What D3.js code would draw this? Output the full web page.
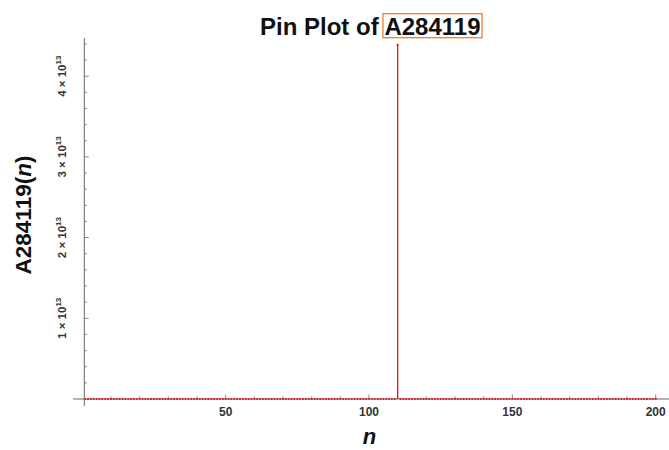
<!DOCTYPE html>
<html><head><meta charset="utf-8">
<script src="https://cdn.jsdelivr.net/npm/d3@7"></script>
<style>body{margin:0;background:#fff}svg{display:block;font-family:"Liberation Sans",Arial,sans-serif}</style>
</head><body><svg id="c" width="669" height="450"></svg>
<script>
// Values: n = 1..200; all visually zero except the spike at n = 110
const nValues = d3.range(1, 201);
const spikeN = [110];
const spikeValue = [4.39e13];
const values = nValues.map(n => { const i = spikeN.indexOf(n); return i >= 0 ? spikeValue[i] : 0; });
const xMajorTicks = [50, 100, 150, 200];
const xMinorTicks = [10, 20, 30, 40, 60, 70, 80, 90, 110, 120, 130, 140, 160, 170, 180, 190];
const yMajorTicks = [1e13, 2e13, 3e13, 4e13];
const yMajorLabels = [["1", "13"], ["2", "13"], ["3", "13"], ["4", "13"]];
const titleText = "Pin Plot of ";
const titleSeq = "A284119";

const svg = d3.select("#c");
const x = d3.scaleLinear().domain([0, 200]).range([82.3, 655.7]);
const y = d3.scaleLinear().domain([0, 4e13]).range([399, 76.2]);
const axisColor = "#666";
const originX = 84.3;

const yMinor = d3.range(2e12, 4.5e13, 2e12).filter(v => !yMajorTicks.includes(v));
const g = svg.append("g");
g.selectAll(".ym").data(yMinor).join("line")
  .attr("x1", originX).attr("x2", originX + 2.5)
  .attr("y1", d => y(d)).attr("y2", d => y(d)).attr("stroke", axisColor).attr("stroke-width", 0.8);
g.selectAll(".yM").data(yMajorTicks).join("line")
  .attr("x1", originX).attr("x2", originX + 4.5)
  .attr("y1", d => y(d)).attr("y2", d => y(d)).attr("stroke", axisColor).attr("stroke-width", 0.8);
g.selectAll(".xm").data(xMinorTicks).join("line")
  .attr("x1", d => x(d)).attr("x2", d => x(d))
  .attr("y1", y(0)).attr("y2", y(0) - 2.5).attr("stroke", axisColor).attr("stroke-width", 0.8);
g.selectAll(".xM").data(xMajorTicks).join("line")
  .attr("x1", d => x(d)).attr("x2", d => x(d))
  .attr("y1", y(0)).attr("y2", y(0) - 4.5).attr("stroke", axisColor).attr("stroke-width", 0.8);
g.append("line").attr("x1", 73).attr("x2", 669).attr("y1", y(0)).attr("y2", y(0)).attr("stroke", axisColor).attr("stroke-width", 1);
g.append("line").attr("x1", originX).attr("x2", originX).attr("y1", 406).attr("y2", 38).attr("stroke", axisColor).attr("stroke-width", 1);

g.selectAll(".xl").data(xMajorTicks).join("text")
  .attr("x", d => x(d)).attr("y", 416).attr("text-anchor", "middle")
  .attr("font-size", 12).attr("font-weight", "bold").attr("fill", "#333").text(d => d);

yMajorTicks.forEach((v, i) => {
  const t = g.append("text")
    .attr("transform", `translate(65.5,${y(v)}) rotate(-90)`)
    .attr("text-anchor", "middle").attr("font-size", 11.5).attr("font-weight", "bold").attr("fill", "#333");
  t.append("tspan").text(yMajorLabels[i][0] + " \u00d7 10");
  t.append("tspan").attr("dy", -5).attr("font-size", 8).text(yMajorLabels[i][1]);
});

const data = nValues.map((n, i) => ({n, v: values[i]}));
svg.append("g").selectAll("line").data(data.filter(d => d.v > 0)).join("line")
  .attr("x1", d => x(d.n)).attr("x2", d => x(d.n))
  .attr("y1", y(0)).attr("y2", d => y(d.v)).attr("stroke", "#e8141b").attr("stroke-width", 1.3);
svg.append("g").selectAll("circle").data(data).join("circle")
  .attr("cx", d => x(d.n)).attr("cy", d => y(d.v)).attr("r", 1.1).attr("fill", "#e8141b");

const title = svg.append("text").attr("x", 260).attr("y", 35).attr("font-size", 24).attr("font-weight", "bold").attr("fill", "#111");
title.append("tspan").text(titleText);
title.append("tspan").text(titleSeq);
const tn = title.node();
const startX = 260 + tn.getSubStringLength(0, titleText.length);
const seqW = tn.getSubStringLength(titleText.length, titleSeq.length);
svg.append("rect").attr("x", startX - 1.5).attr("y", 13.7).attr("width", seqW + 3).attr("height", 24)
  .attr("fill", "none").attr("stroke", "#f07f2f").attr("stroke-width", 1.3);

const yt = svg.append("text").attr("transform", "translate(31,215) rotate(-90)").attr("text-anchor", "middle")
  .attr("font-size", 22.5).attr("font-weight", "bold").attr("fill", "#111");
yt.append("tspan").text("A284119(");
yt.append("tspan").attr("font-style", "italic").text("n");
yt.append("tspan").text(")");
svg.append("text").attr("x", 369.5).attr("y", 444).attr("text-anchor", "middle").attr("font-size", 22)
  .attr("font-weight", "bold").attr("font-style", "italic").attr("fill", "#111").text("n");
</script></body></html>
